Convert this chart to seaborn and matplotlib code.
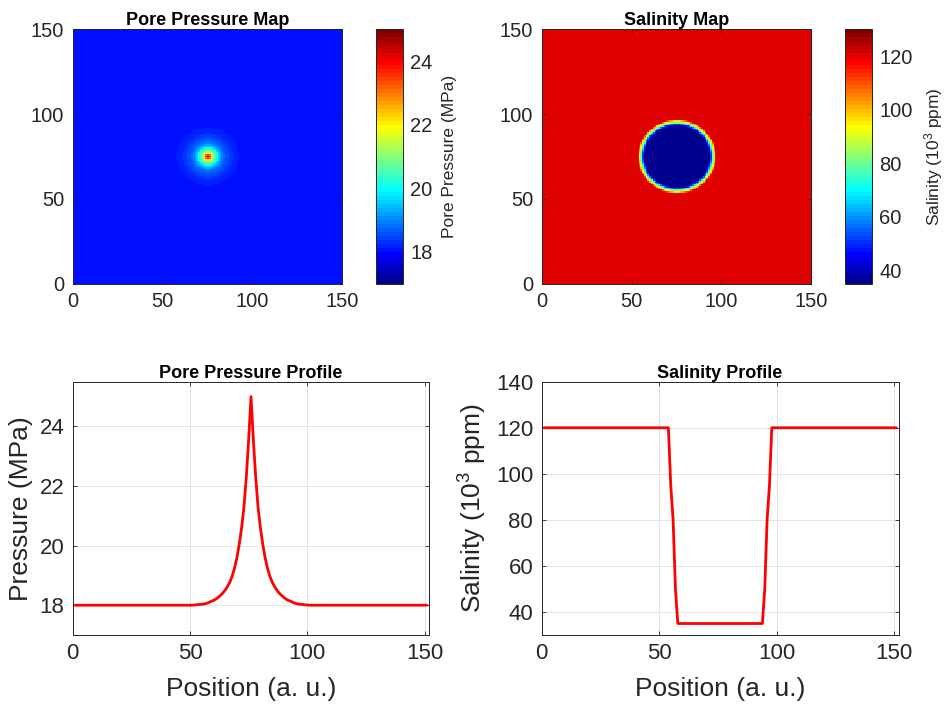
import numpy as np
import matplotlib
matplotlib.use("Agg")
import matplotlib.pyplot as plt
from matplotlib.colors import ListedColormap
import seaborn as sns

# Pore pressure (MPa) versus distance from the injection cell (grid units)
radial_distance = [0, 1, 2, 3, 4, 5, 6, 7, 8, 9, 10, 11, 12, 13, 14, 15,
                   16, 17, 18, 19, 20, 22, 25, 120]
pressure_radial = [25.0, 23.55, 22.3, 21.3, 20.6, 20.05, 19.6, 19.25, 18.98,
                   18.78, 18.63, 18.51, 18.41, 18.33, 18.26, 18.2, 18.16,
                   18.13, 18.09, 18.06, 18.04, 18.02, 18.0, 18.0]

# Salinity (10^3 ppm) versus distance: fresh core, sharp rim, saline host
salinity_distance = [0, 18, 19, 20, 21, 22, 120]
salinity_radial = [35, 35, 50, 80, 95, 120, 120]

grid_size = 151
source_index = 76
pressure_limits = [17, 25]
salinity_limits = [35, 130]
pressure_ticks = [18, 20, 22, 24]
salinity_ticks = [40, 60, 80, 100, 120]
salinity_profile_ticks = [40, 60, 80, 100, 120, 140]
map_ticks = [0, 50, 100, 150]


def matlab_jet(m=64):
    n = int(np.ceil(m / 4))
    u = np.concatenate([np.arange(1, n + 1) / n, np.ones(n - 1),
                        np.arange(n, 0, -1) / n])
    g = int(np.ceil(n / 2)) - (1 if m % 4 == 1 else 0) + np.arange(1, len(u) + 1)
    r = g + n
    b = g - n
    J = np.zeros((m, 3))
    for idx, val in zip(r, u):
        if 1 <= idx <= m:
            J[idx - 1, 0] = val
    for idx, val in zip(g, u):
        if 1 <= idx <= m:
            J[idx - 1, 1] = val
    for idx, val in zip(b, u):
        if 1 <= idx <= m:
            J[idx - 1, 2] = val
    return ListedColormap(J)


jet = matlab_jet(64)

position = np.arange(1, grid_size + 1)
offset = np.abs(position - source_index)
pressure_profile = np.interp(offset, radial_distance, pressure_radial)
salinity_profile = np.interp(offset, salinity_distance, salinity_radial)

ii, jj = np.meshgrid(position, position)
radius = np.hypot(ii - source_index, jj - source_index)
pressure_map = np.interp(radius, radial_distance, pressure_radial)
salinity_map = np.interp(radius, salinity_distance, salinity_radial)

sns.set_theme(style="white")
plt.rcParams["font.family"] = ["Liberation Sans", "DejaVu Sans"]
plt.rcParams["mathtext.fontset"] = "custom"
plt.rcParams["mathtext.rm"] = "Liberation Sans"
plt.rcParams["mathtext.it"] = "Liberation Sans:italic"

edge = "#262626"
W, H = 949, 708
fig = plt.figure(figsize=(W / 100, H / 100), dpi=100)


def box(x0, y0, x1, y1):
    return [x0 / W, 1 - y1 / H, (x1 - x0) / W, (y1 - y0) / H]


def style_axes(ax, tick_size):
    for s in ax.spines.values():
        s.set_color(edge)
        s.set_linewidth(0.7)
        s.set_visible(True)
    ax.tick_params(direction="in", length=3, width=0.6, colors=edge,
                   labelsize=tick_size, labelcolor=edge,
                   top=True, right=True, bottom=True, left=True, pad=6)


ax_pm = fig.add_axes(box(72.7, 29.3, 342.3, 283.7))
cb_pm = fig.add_axes(box(376.0, 29.3, 403.3, 283.7))
ax_sm = fig.add_axes(box(541.7, 29.3, 811.3, 283.7))
cb_sm = fig.add_axes(box(845.3, 29.3, 872.3, 283.7))
ax_pp = fig.add_axes(box(72.7, 381.7, 429.3, 635.0))
ax_sp = fig.add_axes(box(541.5, 381.7, 898.7, 635.0))

maps = [
    (ax_pm, cb_pm, pressure_map, pressure_limits, pressure_ticks,
     "Pore Pressure Map", "Pore Pressure (MPa)"),
    (ax_sm, cb_sm, salinity_map, salinity_limits, salinity_ticks,
     "Salinity Map", "Salinity (10$^3$ ppm)"),
]
for ax, cax, field, lims, cticks, title, clabel in maps:
    im = ax.imshow(field, cmap=jet, vmin=lims[0], vmax=lims[1],
                   origin="lower", extent=[0, 150, 0, 150],
                   interpolation="nearest", aspect="auto")
    ax.set_xlim(0, 150)
    ax.set_ylim(0, 150)
    ax.set_xticks(map_ticks)
    ax.set_yticks(map_ticks)
    style_axes(ax, 14.5)
    ax.set_title(title, fontsize=13, fontweight="bold", color="black", pad=3)
    cb = fig.colorbar(im, cax=cax, ticks=cticks)
    cb.outline.set_edgecolor(edge)
    cb.outline.set_linewidth(0.7)
    cax.tick_params(direction="in", length=3, width=0.6, colors=edge,
                    labelsize=14.5, labelcolor=edge, pad=5)
    cb.set_label(clabel, fontsize=12.5, color=edge, labelpad=7)

lines = [
    (ax_pp, pressure_profile, (17, 25.5), pressure_ticks,
     "Pore Pressure Profile", "Pressure (MPa)"),
    (ax_sp, salinity_profile, (30, 140), salinity_profile_ticks,
     "Salinity Profile", "Salinity (10$^3$ ppm)"),
]
for ax, profile, ylim, yticks, title, ylabel in lines:
    sns.lineplot(x=position, y=profile, ax=ax, color="#ff0000", linewidth=2)
    ax.set_xlim(0, 152)
    ax.set_ylim(*ylim)
    ax.set_xticks(map_ticks)
    ax.set_yticks(yticks)
    ax.grid(True, color="#dfdfdf", linewidth=0.6)
    ax.set_axisbelow(True)
    style_axes(ax, 16)
    ax.set_title(title, fontsize=13, fontweight="bold", color="black", pad=3)
    ax.set_xlabel("Position (a. u.)", fontsize=19, color=edge, labelpad=9)
    ax.set_ylabel(ylabel, fontsize=19, color=edge, labelpad=5)

fig.savefig("out.png", dpi=100, facecolor="white")
